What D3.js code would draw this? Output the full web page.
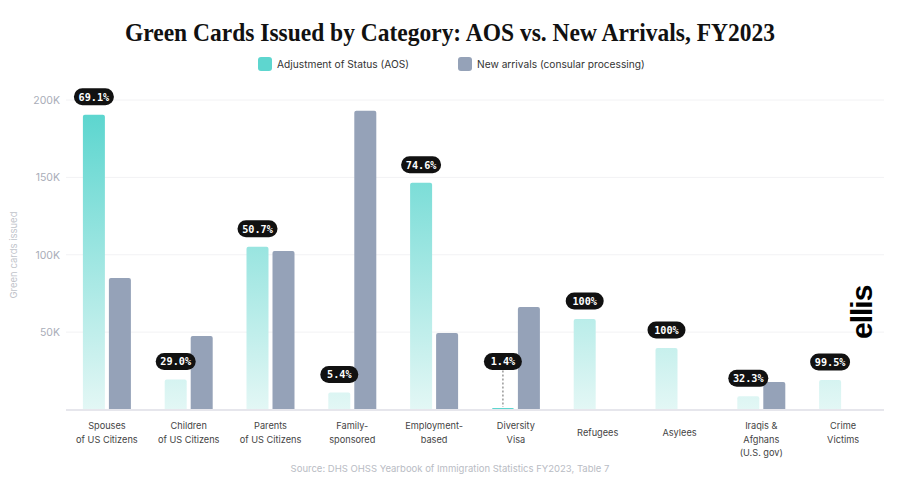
<!DOCTYPE html>
<html><head><meta charset="utf-8">
<script src="https://cdn.jsdelivr.net/npm/d3@7"></script>
<style>body{margin:0;background:#fff}svg{display:block}</style>
</head><body>
<svg id="c" width="900" height="499"></svg>
<script>
const categories = [
  ["Spouses","of US Citizens"],["Children","of US Citizens"],["Parents","of US Citizens"],
  ["Family-","sponsored"],["Employment-","based"],["Diversity","Visa"],["Refugees"],
  ["Asylees"],["Iraqis &","Afghans","(U.S. gov)"],["Crime","Victims"]
];
const aosValues = [190500, 19400, 105100, 11000, 146500, 950, 58500, 39800, 8500, 19100];
const newArrivalValues = [85000, 47500, 102500, 193000, 49500, 66300, 0, 0, 17800, 100];
const shareLabels = ["69.1%","29.0%","50.7%","5.4%","74.6%","1.4%","100%","100%","32.3%","99.5%"];
const yTicks = [50000, 100000, 150000, 200000];
const yTickLabels = ["50K","100K","150K","200K"];
const seriesNames = ["Adjustment of Status (AOS)","New arrivals (consular processing)"];

(function(){
const svg = d3.select("#c");
const W = 900, H = 499;
const pLeft = 66, pRight = 884, pTop = 100, pBottom = 409.5;
const x = d3.scaleBand().domain(d3.range(categories.length)).range([pLeft, pRight]).paddingInner(0).paddingOuter(0);
const y = d3.scaleLinear().domain([0, 200000]).range([pBottom, pTop]);
const teal = "#5ed6cf", slate = "#95a2b8";

const defs = svg.append("defs");
const grad = defs.append("linearGradient").attr("id","aosGrad").attr("gradientUnits","userSpaceOnUse")
  .attr("x1",0).attr("x2",0).attr("y1",y(200000)).attr("y2",y(0));
grad.append("stop").attr("offset","0%").attr("stop-color","#56d4cd");
grad.append("stop").attr("offset","100%").attr("stop-color","#e3f7f5");

svg.append("text").attr("x",W/2).attr("y",41).attr("text-anchor","middle")
  .attr("font-family","Liberation Serif, serif").attr("font-weight","bold").attr("font-size",25)
  .attr("textLength",650).attr("lengthAdjust","spacingAndGlyphs")
  .attr("fill","#111").text("Green Cards Issued by Category: AOS vs. New Arrivals, FY2023");

const legend = svg.append("g").attr("font-family","Inter, sans-serif").attr("font-size",10.2).attr("fill","#333");
[[258, teal, 0],[458, slate, 1]].forEach(([lx,col,i])=>{
  legend.append("rect").attr("x",lx).attr("y",57).attr("width",14).attr("height",14).attr("rx",3).attr("fill",col);
  legend.append("text").attr("x",lx+19).attr("y",68).text(seriesNames[i]);
});

svg.append("g").selectAll("line").data(yTicks).join("line")
  .attr("x1",pLeft).attr("x2",pRight).attr("y1",d=>y(d)).attr("y2",d=>y(d))
  .attr("stroke","#f2f2f4").attr("stroke-width",1);
svg.append("g").selectAll("text").data(yTicks).join("text")
  .attr("x",60).attr("y",d=>y(d)+4).attr("text-anchor","end")
  .attr("font-family","Inter, sans-serif").attr("font-size",10.5).attr("fill","#a9adb8")
  .text((d,i)=>yTickLabels[i]);
svg.append("text").attr("transform","translate(17,255) rotate(-90)").attr("text-anchor","middle")
  .attr("font-family","Inter, sans-serif").attr("font-size",9.5).attr("fill","#c0c3ca").text("Green cards issued");

const bw = 22, gap = 4;
function barPath(x0, y0, w, h, r){
  r = Math.min(r, h, w/2);
  if (h <= 0) return "";
  return `M${x0},${y0+h}V${y0+r}Q${x0},${y0} ${x0+r},${y0}H${x0+w-r}Q${x0+w},${y0} ${x0+w},${y0+r}V${y0+h}Z`;
}
const g = svg.append("g");
categories.forEach((c,i)=>{
  const cx = x(i) + x.bandwidth()/2;
  const a = aosValues[i], n = newArrivalValues[i];
  const aTop = y(a), nTop = y(n);
  const tiny = (pBottom - aTop) < 4;
  g.append("path").attr("d", barPath(cx-gap/2-bw, aTop, bw, pBottom-aTop, 2))
    .attr("fill", tiny ? teal : "url(#aosGrad)");
  if (n > 0) g.append("path").attr("d", barPath(cx+gap/2, nTop, bw, pBottom-nTop, 2)).attr("fill", slate);
});

svg.append("line").attr("x1",pLeft).attr("x2",pRight).attr("y1",pBottom+0.5).attr("y2",pBottom+0.5)
  .attr("stroke","#e6e6ec").attr("stroke-width",2);

categories.forEach((c,i)=>{
  const cx = x(i) + x.bandwidth()/2 - gap/2 - bw/2;
  const aTop = y(aosValues[i]);
  let by = aTop - 18;
  const tiny = (pBottom - aTop) < 4;
  if (tiny) {
    by = pBottom - 48;
    svg.append("line").attr("x1",cx).attr("x2",cx).attr("y1",by+9).attr("y2",aTop-1)
      .attr("stroke","#999").attr("stroke-width",1.5).attr("stroke-dasharray","2,2");
  }
  const txt = shareLabels[i];
  const w = 30 + txt.length * 2;
  svg.append("rect").attr("x",cx-w/2).attr("y",by-8.5).attr("width",w).attr("height",17).attr("rx",8.5).attr("fill","#111");
  svg.append("text").attr("x",cx).attr("y",by+3.8).attr("text-anchor","middle")
    .attr("font-family","DejaVu Sans Mono, monospace").attr("font-weight","bold").attr("font-size",10.2)
    .attr("fill","#fff").text(txt);
});

categories.forEach((c,i)=>{
  const cx = x(i) + x.bandwidth()/2;
  const n = c.length;
  const y0 = n === 1 ? 436 : 429;
  const t = svg.append("text").attr("text-anchor","middle").attr("font-family","Inter, sans-serif")
    .attr("font-size",9.2).attr("fill","#444");
  c.forEach((line,k)=>t.append("tspan").attr("x",cx).attr("y",y0 + k*13.5).text(line));
});

svg.append("text").attr("x",450).attr("y",472).attr("text-anchor","middle")
  .attr("font-family","Inter, sans-serif").attr("font-size",9.5).attr("fill","#b9bcc4")
  .text("Source: DHS OHSS Yearbook of Immigration Statistics FY2023, Table 7");

svg.append("text").attr("transform","translate(872,339) rotate(-90)")
  .attr("font-family","Liberation Sans, Arial, sans-serif").attr("font-weight","bold").attr("font-size",30)
  .attr("letter-spacing",-1).attr("fill","#000").text("ellis");
})();
</script>
</body></html>
